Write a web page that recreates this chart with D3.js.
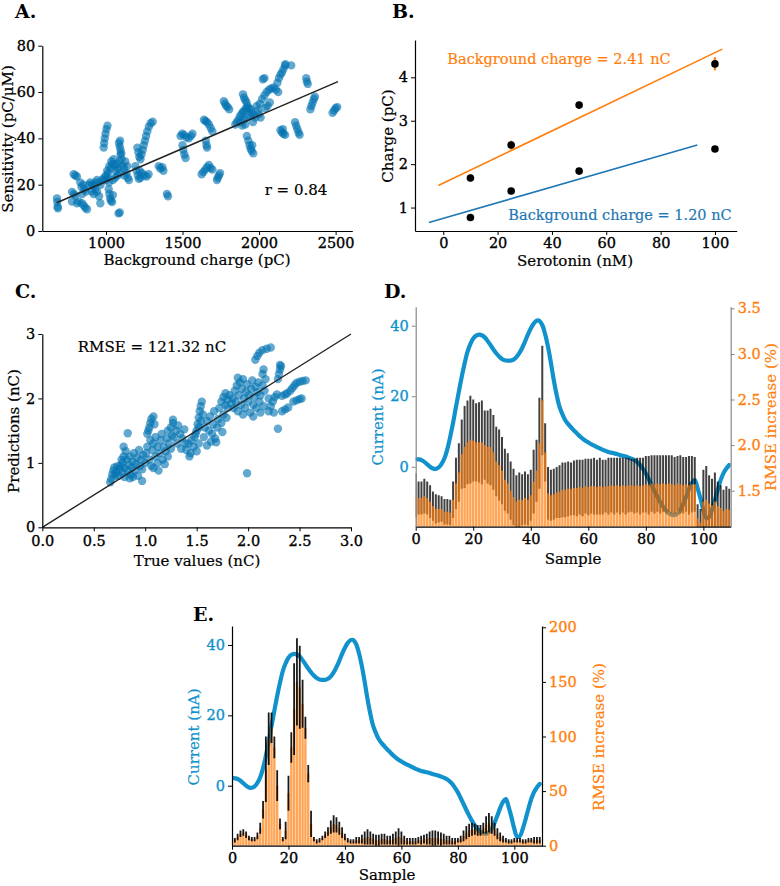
<!DOCTYPE html>
<html>
<head>
<meta charset="utf-8">
<script src="https://cdn.jsdelivr.net/npm/d3@7"></script>
<style>
  body { margin: 0; background: #fff; }
  svg text { font-family: "DejaVu Serif", serif; }
</style>
</head>
<body>
<svg id="fig" width="780" height="886"></svg>
<script>
// ---- A: sensitivity vs background charge
var aPoints = [
  [680,14.1],[682,12.5],[684,10.5],[686,9.8],
  [778,16.9],[790,16],[800,15.2],[778,12.7],[822,12.7],[811,12],
  [789,24.5],[800,24],[810,23.5],
  [832,21],[840,19],[850,20],[860,18],[870,17],[845,16],
  [843,12],[855,11],[865,10],[876,9.4],
  [887,20],[898,21],[909,20],[920,19.5],[930,21],[942,22],[953,21],[965,20],[976,22],[987,23],[998,22],[1009,23],
  [909,17],[920,16],[930,18],[942,17],[955,15],[963,12],
  [1018,18],[1022,16],[1028,14],[1032,13],[1040,12.5],[1045,15.5],
  [985,36],[988,38],[992,40],[997,42],[1003,44],[1010,45.5],
  [1000,24],[1008,26],[1015,25],[1022,28],[1030,27],[1035,30],[1042,29],[1050,31],[1058,28],[1065,26],
  [1072,29],[1080,27],[1088,30],[1095,33],[1102,31],[1110,28],[1118,27],[1126,30],[1134,25],[1142,23],
  [1150,22],[1060,23],[1075,24],[1090,25],[1120,24],[1138,28],[1020,21],[1045,22],
  [1085,38],[1090,36.5],[1095,35],[1100,33.5],[1092,39],
  [1082,7.6],[1090,8],
  [1192,28],[1200,26],[1208,24],[1215,22.5],[1225,23],
  [1205,36],[1212,34],[1218,32],
  [1225,31],[1232,33],[1240,35],[1247,37],[1255,39],[1262,41],[1270,43],[1280,45],[1292,46.5],[1305,47.2],
  [1220,26],[1235,25],[1250,24],[1265,23.5],[1278,24.5],
  [1345,28],[1355,27],[1368,27.5],[1375,26],
  [1398,16],[1405,15],
  [1487,41],[1498,42],[1510,41.5],[1525,40.5],[1540,40],[1555,41],[1565,42],
  [1500,37],[1505,35],[1512,33],[1520,31.5],
  [1640,48],[1650,47.5],[1660,47],[1672,46],[1684,44.5],[1695,43],
  [1652,39],[1657,37],[1660,36],
  [1625,24.5],[1636,25.5],[1648,26.5],[1660,27.5],[1672,28.5],[1684,27.2],[1695,26.5],
  [1725,22],[1730,23],[1738,24],[1745,25],
  [1770,56],[1778,55],[1785,54],[1795,53.5],[1805,52.5],
  [1845,46],[1855,47],[1865,48],[1875,49.5],[1885,50.5],[1895,51.5],[1905,52],[1915,53],[1925,54],[1935,53],
  [1945,52.5],[1955,51],[1965,50],[1975,49],[1880,47],[1900,48],[1920,49],[1940,50],[1960,47],[1890,45.5],[1910,46],
  [1895,59],[1902,57.5],[1910,56.5],[1918,55.5],
  [1920,41],[1930,39],[1938,37],[1945,35.5],[1952,34.5],[1962,33.5],[1955,37],
  [1985,54],[1992,52],[2000,50.5],[2010,49],
  [2005,55],[2020,57],[2035,58.5],[2050,60],[2065,61],[2080,61.5],[2095,62],[2110,61],[2125,60],[2040,53],[2055,54],[2070,55.5],
  [2025,65.5],[2035,66],
  [2120,64],[2130,66],[2140,67.5],[2150,68.5],[2160,70],[2170,71.5],[2172,72],[2210,71.5],
  [2140,43.5],[2150,42.5],[2160,42],[2170,41.5],[2155,44],
  [2235,47],[2242,45.5],[2250,44],[2258,42.5],[2265,41.5],
  [2308,66],[2312,64.5],[2318,63.5],
  [2335,52.5],[2342,54],[2350,55.5],[2358,57],[2365,58],
  [2480,51],[2490,52],[2500,53],[2510,53.5]
];
var aFit = [[678,12.2],[2515,64.5]];
var aXTicks = [1000,1500,2000,2500];
var aYTicks = [0,20,40,60,80];

// ---- B: charge vs serotonin
var bConc = [10,25,50,100];
var bHigh = [1.68,2.44,3.36,4.31];
var bHighErr = [0.08,0.1,0.08,0.15];
var bLow = [0.77,1.38,1.84,2.35];
var bFitHigh = [[-1.8,1.51],[102.7,4.65]];
var bFitLow = [[-5.3,0.655],[93.5,2.44]];
var bXTicks = [0,20,40,60,80,100];
var bYTicks = [1,2,3,4];

// ---- C: predictions vs true values
var cPoints = [
  [0.66,0.70],[0.67,0.75],[0.68,0.82],[0.69,0.88],[0.70,0.93],[0.71,0.80],[0.72,0.85],
  [0.74,0.80],[0.75,0.90],[0.76,0.95],[0.78,0.85],[0.78,1.00],[0.80,0.92],[0.80,0.78],[0.82,1.05],[0.83,0.88],
  [0.84,0.97],[0.85,1.10],[0.86,0.82],[0.87,0.93],[0.88,1.02],[0.89,1.15],[0.90,0.88],[0.91,0.98],[0.92,1.08],
  [0.93,0.80],[0.94,1.20],[0.95,0.95],[0.96,1.05],[0.97,0.90],[0.98,1.12],[0.85,0.76],[0.88,0.78],[0.79,1.10],
  [0.81,1.18],[0.77,1.05],[0.73,0.95],
  [0.83,1.46],[0.97,0.72],[0.79,1.25],
  [1.02,1.45],[1.04,1.55],[1.05,1.62],[1.06,1.68],[1.08,1.72],[1.09,1.60],[1.03,1.50],
  [1.00,1.00],[1.01,1.15],[1.02,1.25],[1.04,1.05],[1.05,1.35],[1.06,0.95],[1.07,1.20],[1.08,1.30],[1.10,1.10],
  [1.10,1.40],[1.12,1.00],[1.12,1.25],[1.14,1.15],[1.15,1.35],[1.16,1.45],[1.17,1.05],[1.18,1.25],[1.20,1.18],
  [1.21,1.38],[1.22,1.10],[1.23,1.30],[1.25,1.22],[1.26,1.42],[1.13,0.88],[1.08,0.92],[1.19,0.98],
  [1.22,1.50],[1.25,1.55],[1.27,1.62],[1.28,1.40],[1.30,1.50],[1.31,1.30],[1.32,1.58],[1.34,1.45],[1.35,1.22],
  [1.36,1.38],[1.38,1.52],[1.39,1.30],[1.27,1.67],
  [1.40,1.20],[1.42,1.30],[1.44,1.15],[1.45,1.35],[1.47,1.25],[1.48,1.40],[1.50,1.18],[1.52,1.30],[1.43,1.10],
  [1.50,1.50],[1.51,1.60],[1.52,1.70],[1.53,1.80],[1.54,1.88],[1.55,1.95],[1.52,1.55],[1.54,1.65],[1.56,1.75],[1.49,1.45],
  [1.57,1.40],[1.58,1.55],[1.60,1.65],[1.60,1.27],[1.62,1.50],[1.63,1.72],[1.65,1.45],[1.66,1.60],[1.67,1.80],
  [1.68,1.38],[1.70,1.55],[1.71,1.68],[1.72,1.85],[1.74,1.62],[1.75,1.48],[1.76,1.75],[1.78,1.90],[1.79,1.70],
  [1.64,1.33],[1.69,1.32],
  [1.74,1.95],[1.76,2.02],[1.78,2.08],[1.80,1.98],[1.82,2.05],[1.84,1.92],[1.80,1.85],
  [1.85,2.00],[1.86,1.85],[1.87,2.12],[1.88,1.95],[1.89,2.20],[1.90,1.80],[1.91,2.05],[1.92,2.25],[1.93,1.90],
  [1.94,2.15],[1.95,2.30],[1.96,2.00],[1.97,1.85],[1.98,2.10],[1.99,2.22],[2.00,1.95],[2.01,2.05],[2.02,1.78],
  [2.03,2.15],[2.04,2.28],[2.05,1.90],[2.06,2.02],[2.07,2.18],[2.08,1.85],[2.09,2.10],[2.10,2.25],[2.11,1.95],
  [2.12,2.05],[2.14,2.20],[2.15,1.88],[2.16,2.12],[2.17,2.30],[1.95,1.75],[2.05,1.72],[2.12,1.78],[1.90,2.32],
  [2.07,2.60],[2.09,2.66],[2.11,2.71],[2.14,2.75],[2.18,2.77],[2.22,2.79],
  [2.15,2.45],[2.14,2.38],
  [2.29,2.30],[2.30,2.38],[2.31,2.45],[2.32,2.50],[2.31,2.52],
  [2.20,1.80],[2.22,1.88],[2.24,1.95],[2.26,2.02],[2.28,2.06],[2.25,1.78],[2.20,2.00],
  [2.29,1.53],
  [2.33,2.04],[2.36,2.06],[2.38,2.08],
  [2.41,2.12],[2.43,2.16],[2.45,2.20],
  [2.33,1.80],[2.36,1.83],[2.39,1.86],
  [2.47,2.24],[2.50,2.26],[2.53,2.27],[2.56,2.28],
  [2.44,1.95],[2.47,1.97],[2.50,1.99],[2.52,2.00],
  [1.99,0.84]
];
var cTicks = [0,0.5,1,1.5,2,2.5,3];
var cYTicks = [0,1,2,3];

// ---- D / E: current trace (nA) per sample
var current = [
  2.2,2.1,1.9,1.4,0.7,0.0,-0.5,-0.6,-0.2,0.8,
  2.4,5.0,8.5,12.5,17.0,21.3,25.5,29.3,32.6,34.8,
  36.4,37.2,37.5,37.3,36.7,35.7,34.5,33.3,32.2,31.3,
  30.6,30.2,30.1,30.1,30.4,31.1,32.2,33.7,35.5,37.5,
  39.2,40.6,41.4,41.4,40.2,37.6,34.0,29.5,24.6,20.4,
  17.0,14.9,13.2,12.1,11.2,10.3,9.5,8.7,8.0,7.4,
  6.9,6.4,6.0,5.6,5.2,4.8,4.5,4.2,4.0,3.8,
  3.6,3.3,3.1,2.9,2.6,2.3,1.9,1.3,0.5,-0.6,
  -1.9,-3.5,-5.2,-6.9,-8.5,-10.0,-11.3,-12.4,-13.2,-13.6,
  -13.7,-13.2,-12.3,-10.5,-8.5,-6.3,-4.6,-3.8,-6.1,-9.0,
  -12.3,-14.5,-14.3,-12.2,-9.5,-6.5,-3.8,-1.8,-0.5,0.5
];
// D: RMSE increase (%) mean and std per sample
var dMean = [
  1.45,1.42,1.42,1.44,1.42,1.38,1.33,1.30,1.30,1.30,
  1.27,1.27,1.26,1.40,1.58,1.70,1.90,1.98,2.03,2.06,
  2.05,2.03,2.03,2.03,2.00,1.98,1.98,1.92,1.82,1.78,
  1.72,1.62,1.58,1.50,1.43,1.38,1.40,1.40,1.42,1.40,
  1.45,1.60,1.72,2.02,2.49,1.92,1.47,1.45,1.46,1.48,
  1.49,1.51,1.51,1.52,1.52,1.53,1.53,1.54,1.53,1.55,
  1.54,1.55,1.55,1.54,1.55,1.54,1.55,1.55,1.56,1.55,
  1.56,1.55,1.56,1.55,1.56,1.56,1.55,1.56,1.55,1.56,
  1.57,1.56,1.58,1.57,1.58,1.57,1.58,1.57,1.58,1.57,
  1.56,1.58,1.57,1.56,1.57,1.56,1.57,1.57,1.20,1.15,
  1.38,1.40,1.36,1.34,1.38,1.33,1.31,1.28,1.30,1.29
];
var dStd = [
  0.24,0.18,0.18,0.19,0.18,0.18,0.16,0.16,0.15,0.14,
  0.14,0.14,0.14,0.20,0.28,0.32,0.38,0.45,0.46,0.48,
  0.45,0.43,0.44,0.46,0.38,0.40,0.42,0.41,0.38,0.39,
  0.37,0.34,0.33,0.32,0.31,0.29,0.30,0.28,0.29,0.28,
  0.28,0.35,0.34,0.50,0.60,0.32,0.29,0.28,0.28,0.28,
  0.29,0.30,0.30,0.30,0.29,0.30,0.31,0.30,0.31,0.30,
  0.31,0.30,0.31,0.30,0.31,0.30,0.29,0.31,0.30,0.31,
  0.30,0.31,0.30,0.31,0.30,0.29,0.30,0.30,0.31,0.30,
  0.31,0.32,0.31,0.32,0.31,0.32,0.31,0.32,0.31,0.32,
  0.31,0.30,0.32,0.31,0.30,0.32,0.31,0.30,0.15,0.15,
  0.35,0.37,0.31,0.29,0.32,0.27,0.25,0.23,0.25,0.23
];
// E: RMSE increase (%) mean and std per sample
var eMean = [
  8,5,8,11,12,10,7,6,6,9,
  16,33,70,98,108,90,55,20,6,14,
  48,90,125,150,145,130,108,66,20,6,
  4,5,7,10,13,17,20,19,16,12,
  8,5,4,4,5,5,6,7,8,7,
  6,5,5,6,6,5,5,6,7,8,
  7,5,4,4,4,4,5,5,6,6,
  7,7,7,7,6,6,5,5,4,4,
  5,6,9,12,14,15,15,14,14,16,
  19,21,19,15,11,8,6,5,4,4,
  5,5,5,4,4,5,5,5,5,5
];
var eStd = [
  3,2,3,3,3,3,2,2,2,3,
  5,8,30,24,14,10,14,5,2,8,
  16,14,42,40,38,22,10,8,12,2,
  2,2,2,3,4,6,8,7,6,5,
  3,2,2,2,3,3,4,6,7,6,
  5,5,5,5,5,4,4,5,6,8,
  6,4,3,3,3,3,3,4,4,5,
  6,7,7,6,6,5,4,4,3,3,
  2,3,5,6,6,6,5,5,5,5,
  8,9,8,6,5,4,3,2,2,2,
  2,2,2,2,2,2,2,3,3,3
];
var sampleTicks = [0,20,40,60,80,100];
var currentTicks = [0,20,40];
var dRightTicks = [1.5,2.0,2.5,3.0,3.5];
var eRightTicks = [0,50,100,150,200];

var BLUE = "#0173b2", LINEBLUE = "#1192cc", ORANGE = "#ff7f0e";
var intFmt = d3.format("d");
var svg = d3.select("#fig");

function styleAxis(g, textColor, lineColor) {
  g.selectAll("text").attr("font-size", 14.5).attr("fill", textColor)
    .attr("stroke", textColor).attr("stroke-width", 0.35);
  g.selectAll(".tick line").attr("stroke", lineColor);
  g.select(".domain").attr("stroke", lineColor).attr("stroke-width", 1.2);
}
function label(txt, x, y, opts) {
  opts = opts || {};
  var t = svg.append("text").text(txt)
    .attr("font-size", opts.size || 15)
    .attr("fill", opts.color || "#000")
    .attr("font-weight", opts.weight || "normal")
    .attr("text-anchor", opts.anchor || "middle");
  if (opts.weight !== "bold") t.attr("stroke", opts.color || "#000").attr("stroke-width", 0.2);
  if (opts.rotate) t.attr("transform", "translate(" + x + "," + y + ") rotate(-90)");
  else t.attr("x", x).attr("y", y);
  return t;
}

// ===== Panel A
var ax = d3.scaleLinear().domain([584, 2609]).range([42.3, 352.3]);
var ay = d3.scaleLinear().domain([0, 80]).range([231, 45.7]);
svg.append("g").selectAll("circle").data(aPoints).enter().append("circle")
  .attr("cx", function(d) { return ax(d[0]); })
  .attr("cy", function(d) { return ay(d[1]); })
  .attr("r", 4.2).attr("fill", BLUE).attr("fill-opacity", 0.62);
svg.append("line")
  .attr("x1", ax(aFit[0][0])).attr("y1", ay(aFit[0][1]))
  .attr("x2", ax(aFit[1][0])).attr("y2", ay(aFit[1][1]))
  .attr("stroke", "#222").attr("stroke-width", 1.5);
styleAxis(svg.append("g").attr("transform", "translate(0,231)")
  .call(d3.axisBottom(ax).tickValues(aXTicks).tickFormat(intFmt).tickSize(4).tickSizeOuter(0).tickPadding(3)), "#000", "#000");
styleAxis(svg.append("g").attr("transform", "translate(42.3,0)")
  .call(d3.axisLeft(ay).tickValues(aYTicks).tickFormat(intFmt).tickSize(4).tickSizeOuter(0).tickPadding(3)), "#000", "#000");
label("A.", 15, 18, {anchor: "start", weight: "bold", size: 19});
label("Sensitivity (pC/\u03bcM)", 13, 139, {rotate: true});
label("Background charge (pC)", 197, 265);
label("r = 0.84", 296, 195, {size: 15});

// ===== Panel B
var bx = d3.scaleLinear().domain([-10.4, 108]).range([415, 736.7]);
var by = d3.scaleLinear().domain([0.46, 4.86]).range([231, 40]);
svg.append("line")
  .attr("x1", bx(bFitHigh[0][0])).attr("y1", by(bFitHigh[0][1]))
  .attr("x2", bx(bFitHigh[1][0])).attr("y2", by(bFitHigh[1][1]))
  .attr("stroke", ORANGE).attr("stroke-width", 1.6);
svg.append("line")
  .attr("x1", bx(bFitLow[0][0])).attr("y1", by(bFitLow[0][1]))
  .attr("x2", bx(bFitLow[1][0])).attr("y2", by(bFitLow[1][1]))
  .attr("stroke", "#1f77b4").attr("stroke-width", 1.6);
svg.append("g").selectAll("line").data(bConc).enter().append("line")
  .attr("x1", function(d) { return bx(d); }).attr("x2", function(d) { return bx(d); })
  .attr("y1", function(d, i) { return by(bHigh[i] - bHighErr[i]); })
  .attr("y2", function(d, i) { return by(bHigh[i] + bHighErr[i]); })
  .attr("stroke", ORANGE).attr("stroke-width", 2.2);
svg.append("g").selectAll("circle").data(bConc).enter().append("circle")
  .attr("cx", function(d) { return bx(d); })
  .attr("cy", function(d, i) { return by(bHigh[i]); })
  .attr("r", 3.8).attr("fill", "#000");
svg.append("g").selectAll("circle").data(bConc).enter().append("circle")
  .attr("cx", function(d) { return bx(d); })
  .attr("cy", function(d, i) { return by(bLow[i]); })
  .attr("r", 3.8).attr("fill", "#000");
styleAxis(svg.append("g").attr("transform", "translate(0,231)")
  .call(d3.axisBottom(bx).tickValues(bXTicks).tickFormat(intFmt).tickSize(4).tickSizeOuter(0).tickPadding(3)), "#000", "#000");
styleAxis(svg.append("g").attr("transform", "translate(415,0)")
  .call(d3.axisLeft(by).tickValues(bYTicks).tickFormat(intFmt).tickSize(4).tickSizeOuter(0).tickPadding(3)), "#000", "#000");
label("B.", 392, 18, {anchor: "start", weight: "bold", size: 19});
label("Charge (pC)", 393, 136, {rotate: true});
label("Serotonin (nM)", 575, 266);
label("Background charge = 2.41 nC", 559, 64, {color: ORANGE, size: 14.5});
label("Background charge = 1.20 nC", 620, 220, {color: "#1f77b4", size: 14.5});

// ===== Panel C
var cx = d3.scaleLinear().domain([0, 3]).range([42.3, 351]);
var cy = d3.scaleLinear().domain([0, 3]).range([527.3, 334]);
svg.append("g").selectAll("circle").data(cPoints).enter().append("circle")
  .attr("cx", function(d) { return cx(d[0]); })
  .attr("cy", function(d) { return cy(d[1]); })
  .attr("r", 4.2).attr("fill", BLUE).attr("fill-opacity", 0.62);
svg.append("line")
  .attr("x1", cx(0)).attr("y1", cy(0)).attr("x2", cx(3)).attr("y2", cy(3))
  .attr("stroke", "#222").attr("stroke-width", 1.4);
styleAxis(svg.append("g").attr("transform", "translate(0,527.3)")
  .call(d3.axisBottom(cx).tickValues(cTicks).tickFormat(d3.format(".1f")).tickSize(4).tickSizeOuter(0).tickPadding(4.5)), "#000", "#000");
styleAxis(svg.append("g").attr("transform", "translate(42.3,0)")
  .call(d3.axisLeft(cy).tickValues(cYTicks).tickFormat(intFmt).tickSize(4).tickSizeOuter(0).tickPadding(3)), "#000", "#000");
label("C.", 15, 298, {anchor: "start", weight: "bold", size: 19});
label("Predictions (nC)", 19, 431, {rotate: true});
label("True values (nC)", 197, 566);
label("RMSE = 121.32 nC", 152, 352, {size: 15});

// ===== shared helper for D and E
var idx = d3.range(current.length);
function samplePanel(opt) {
  var x = d3.scaleLinear().domain([0, opt.xmax]).range([opt.left, opt.right]);
  var yL = d3.scaleLinear().domain(opt.leftDomain).range([opt.bottom, opt.top]);
  var yR = d3.scaleLinear().domain(opt.rightDomain).range([opt.bottom, opt.top]);
  var clipId = "clip" + opt.name;
  svg.append("clipPath").attr("id", clipId).append("rect")
    .attr("x", opt.left).attr("y", opt.top - 10)
    .attr("width", opt.right - opt.left).attr("height", opt.bottom - opt.top + 10);
  var g = svg.append("g").attr("clip-path", "url(#" + clipId + ")");
  var bw = x(0.85) - x(0);

  g.append("path").datum(current)
    .attr("d", d3.line().x(function(d, i) { return x(i); }).y(function(d) { return yL(d); }).curve(d3.curveCatmullRom))
    .attr("fill", "none").attr("stroke", LINEBLUE).attr("stroke-width", 4.2).attr("stroke-linecap", "round");

  var errs = g.append("g").selectAll("line").data(idx).enter().append("line")
    .attr("x1", function(i) { return x(i); }).attr("x2", function(i) { return x(i); })
    .attr("y1", function(i) { return yR(opt.mean[i] - opt.std[i]); })
    .attr("y2", function(i) { return yR(opt.mean[i] + opt.std[i]); })
    .attr("stroke", "#000").attr("stroke-width", opt.errWidth).attr("stroke-opacity", opt.errOpacity);

  g.append("g").selectAll("rect").data(idx).enter().append("rect")
    .attr("x", function(i) { return x(i) - bw / 2; })
    .attr("width", bw)
    .attr("y", function(i) { return yR(opt.mean[i]); })
    .attr("height", function(i) { return opt.bottom - yR(opt.mean[i]); })
    .attr("fill", ORANGE).attr("fill-opacity", 0.7);
  if (opt.errOnTop) errs.each(function() { this.parentNode.parentNode.appendChild(this.parentNode); });

  styleAxis(svg.append("g").attr("transform", "translate(0," + opt.bottom + ")")
    .call(d3.axisBottom(x).tickValues(sampleTicks).tickSize(4).tickSizeOuter(0).tickPadding(3)), "#000", "#000");
  styleAxis(svg.append("g").attr("transform", "translate(" + opt.left + ",0)")
    .call(d3.axisLeft(yL).tickValues(currentTicks).tickSize(4).tickSizeOuter(0).tickPadding(3)), LINEBLUE, opt.spine);
  styleAxis(svg.append("g").attr("transform", "translate(" + opt.right + ",0)")
    .call(d3.axisRight(yR).tickValues(opt.rightTicks).tickFormat(opt.rightFormat).tickSize(4).tickSizeOuter(0).tickPadding(3)), ORANGE, opt.spine);
}

// ===== Panel D
samplePanel({
  name: "D", xmax: 109.5, left: 415.7, right: 730.7, top: 306.7, bottom: 526.7,
  leftDomain: [-17, 45.4], rightDomain: [1.105, 3.518],
  mean: dMean, std: dStd, errWidth: 2, errOpacity: 0.75, errOnTop: false,
  rightTicks: dRightTicks, rightFormat: d3.format(".1f"), spine: "#888"
});
label("D.", 384, 298, {anchor: "start", weight: "bold", size: 19});
label("Current (nA)", 383, 417, {rotate: true, color: LINEBLUE});
label("RMSE increase (%)", 776, 417, {rotate: true, color: ORANGE});
label("Sample", 573, 564);

// ===== Panel E
samplePanel({
  name: "E", xmax: 109.8, left: 232, right: 542, top: 626, bottom: 845.7,
  leftDomain: [-17.06, 45.4], rightDomain: [0, 201.2],
  mean: eMean, std: eStd, errWidth: 1.8, errOpacity: 0.9, errOnTop: true,
  rightTicks: eRightTicks, rightFormat: d3.format("d"), spine: "#000"
});
label("E.", 193, 621, {anchor: "start", weight: "bold", size: 19});
label("Current (nA)", 199, 737, {rotate: true, color: LINEBLUE});
label("RMSE increase (%)", 604, 737, {rotate: true, color: ORANGE});
label("Sample", 387, 880);
</script>
</body>
</html>
